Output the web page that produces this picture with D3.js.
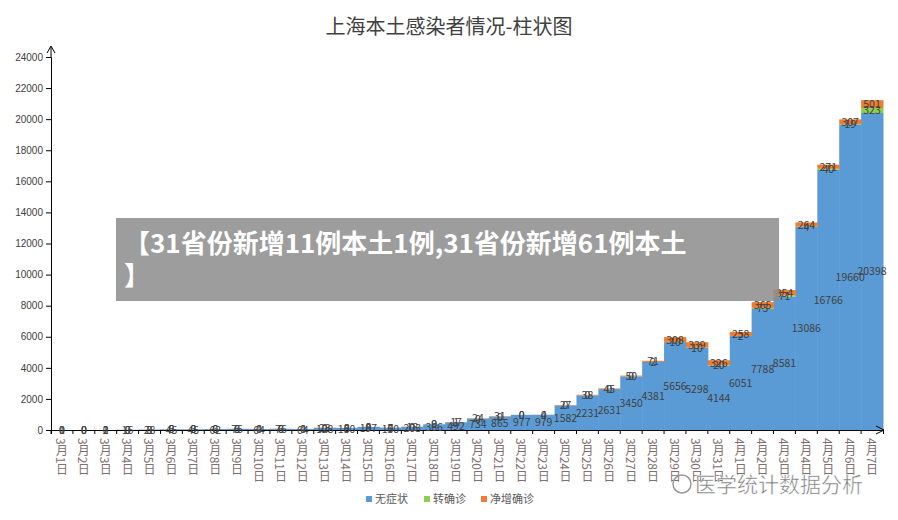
<!DOCTYPE html>
<html>
<head>
<meta charset="utf-8">
<script src="https://d3js.org/d3.v7.min.js"></script>
<style>
  body { margin: 0; background: #fff; font-family: "Noto Sans CJK SC", "DejaVu Sans", sans-serif; }
  #banner { position: absolute; left: 116px; top: 218px; width: 663px; height: 83px; background: rgba(140,140,140,0.85);
            color: #fff; font-weight: bold; font-size: 26px; line-height: 32px; padding: 8px 8px; box-sizing: border-box; white-space: nowrap; }
</style>
</head>
<body>
<svg id="plot" width="898" height="520"></svg>
<div id="banner">【31省份新增11例本土1例,31省份新增61例本土<br>】</div>
<script>
const days = [];
for (let i = 1; i <= 31; i++) days.push('3月' + i + '日');
for (let i = 1; i <= 7; i++) days.push('4月' + i + '日');

const asym = [1,0,1,16,28,45,45,62,76,64,76,64,128,130,197,150,203,366,492,734,865,977,979,1582,2231,2631,3450,4381,5656,5298,4144,6051,7788,8581,13086,16766,19660,20398];
const toConf = [0,0,0,0,0,0,0,0,0,0,0,0,0,0,0,0,0,0,1,0,0,0,0,0,0,0,0,2,10,10,20,2,73,71,4,40,19,323];
const netConf = [0,0,2,0,3,5,3,6,5,4,6,4,23,8,8,7,18,9,17,24,31,0,4,27,38,45,50,71,308,339,326,258,365,354,264,271,307,501];
const yTicks = d3.range(0, 24001, 2000);
const seriesNames = ['无症状', '转确诊', '净增确诊'];
const colors = ['#5b9bd5', '#8fcf4f', '#ed7d31'];

const svg = d3.select('svg#plot');
const margin = {left: 51, top: 57};
const x = d3.scaleBand().domain(days).range([margin.left, 883]).padding(0);
const y = d3.scaleLinear().domain([0, 24000]).range([430, margin.top]);

svg.append('text').attr('x', 449).attr('y', 34).attr('text-anchor', 'middle')
   .attr('font-size', 20).attr('fill', '#404040').text('上海本土感染者情况-柱状图');

const rows = days.map((d, i) => ({day: d, a: asym[i], t: toConf[i], n: netConf[i]}));
const stack = d3.stack().keys(['a', 't', 'n'])(rows);

stack.forEach((layer, k) => {
  svg.append('g').selectAll('rect').data(layer).join('rect')
     .attr('x', d => x(d.data.day)).attr('width', x.bandwidth() + 0.5)
     .attr('y', d => y(d[1])).attr('height', d => y(d[0]) - y(d[1]))
     .attr('fill', colors[k]);
});

// y axis
const ya = svg.append('g').attr('transform', `translate(${margin.left},0)`)
  .call(d3.axisLeft(y).tickValues(yTicks).tickSize(5).tickFormat(d3.format('d')));
ya.select('.domain').attr('stroke', '#000');
ya.selectAll('text').attr('font-size', 10).attr('fill', '#404040');
ya.selectAll('line').attr('stroke', '#000');
svg.append('line').attr('x1', margin.left).attr('x2', margin.left).attr('y1', 57).attr('y2', 47).attr('stroke', '#000');
svg.append('path').attr('d', `M${margin.left-4},53 L${margin.left},46 L${margin.left+4},53`).attr('fill', 'none').attr('stroke', '#000');

// x axis
const xa = svg.append('g').attr('transform', 'translate(0,430)')
  .call(d3.axisBottom(x).tickSize(4).tickFormat(''));
xa.select('.domain').attr('stroke', '#000');
xa.selectAll('line').attr('stroke', '#000').attr('transform', `translate(${-x.bandwidth()/2},0)`);
svg.append('path').attr('d', 'M876,426 L884,430 L876,434').attr('fill', 'none').attr('stroke', '#000');
svg.append('g').selectAll('text').data(days).join('text')
   .attr('x', d => x(d) + x.bandwidth()/2).attr('y', 438)
   .style('writing-mode', 'vertical-rl')
   .attr('font-size', 12).attr('fill', '#7f6f6f').text(d => d);

// data labels
const lab = svg.append('g').attr('font-size', 10.5).attr('fill', '#404040').attr('text-anchor', 'middle');
stack.forEach((layer) => {
  lab.selectAll(null).data(layer).join('text')
     .attr('x', d => x(d.data.day) + x.bandwidth()/2)
     .attr('y', d => (y(d[0]) + y(d[1]))/2 + 4)
     .text(d => d[1] - d[0]);
});

// legend
const lg = svg.append('g').attr('font-size', 11).attr('fill', '#595959');
const lx = [366, 424, 481];
seriesNames.forEach((s, i) => {
  lg.append('rect').attr('x', lx[i]).attr('y', 496).attr('width', 6).attr('height', 6).attr('fill', colors[i]);
  lg.append('text').attr('x', lx[i] + 9).attr('y', 503).text(s);
});

// watermark
svg.append('circle').attr('cx', 682).attr('cy', 484).attr('r', 9).attr('fill', 'none').attr('stroke', '#999').attr('stroke-width', 1.5);
svg.append('text').attr('x', 695).attr('y', 492).attr('font-size', 21).attr('fill', '#777')
   .attr('stroke', '#fff').attr('stroke-width', 0.5).text('医学统计数据分析');
</script>
</body>
</html>
